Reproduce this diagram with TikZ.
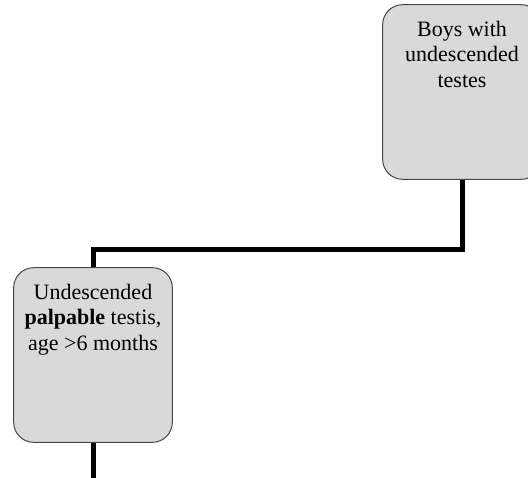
\documentclass[tikz,border=0pt]{standalone}
\usepackage{fontspec}
\setmainfont{Liberation Serif}
\definecolor{boxgray}{RGB}{217,217,217}
\definecolor{edgegray}{RGB}{70,70,70}
\tikzset{every picture/.style={line width=0.75pt}}
\begin{document}
\begin{tikzpicture}[x=0.75pt,y=0.75pt,yscale=-1,xscale=1,
  stepbox/.style={draw=edgegray, fill=boxgray, rounded corners=15pt,
    minimum width=119pt, minimum height=131pt, inner sep=0pt},
  boxtext/.style={anchor=north, align=center, yshift=-9pt,
    font=\fontsize{16.5}{19}\selectfont},
  link/.style={line width=3.75pt}]
\clip (0,0) rectangle (528,478);
\useasboundingbox (0,0) rectangle (528,478);

%Boxes
\node (boys) [stepbox, label={[boxtext]north:Boys with\\undescended\\testes}] at (462,92) {};
\node (palp) [stepbox, label={[boxtext]north:Undescended\\\textbf{palpable} testis,\\age >6 months}] at (93,355) {};

%Connectors
\coordinate (bend) at (462,249);
\coordinate (tail) at (93,478);
\draw [link] (boys.south) -- (bend) -| (palp.north);
\draw [link] (palp.south) -- (tail);

\end{tikzpicture}
\end{document}
